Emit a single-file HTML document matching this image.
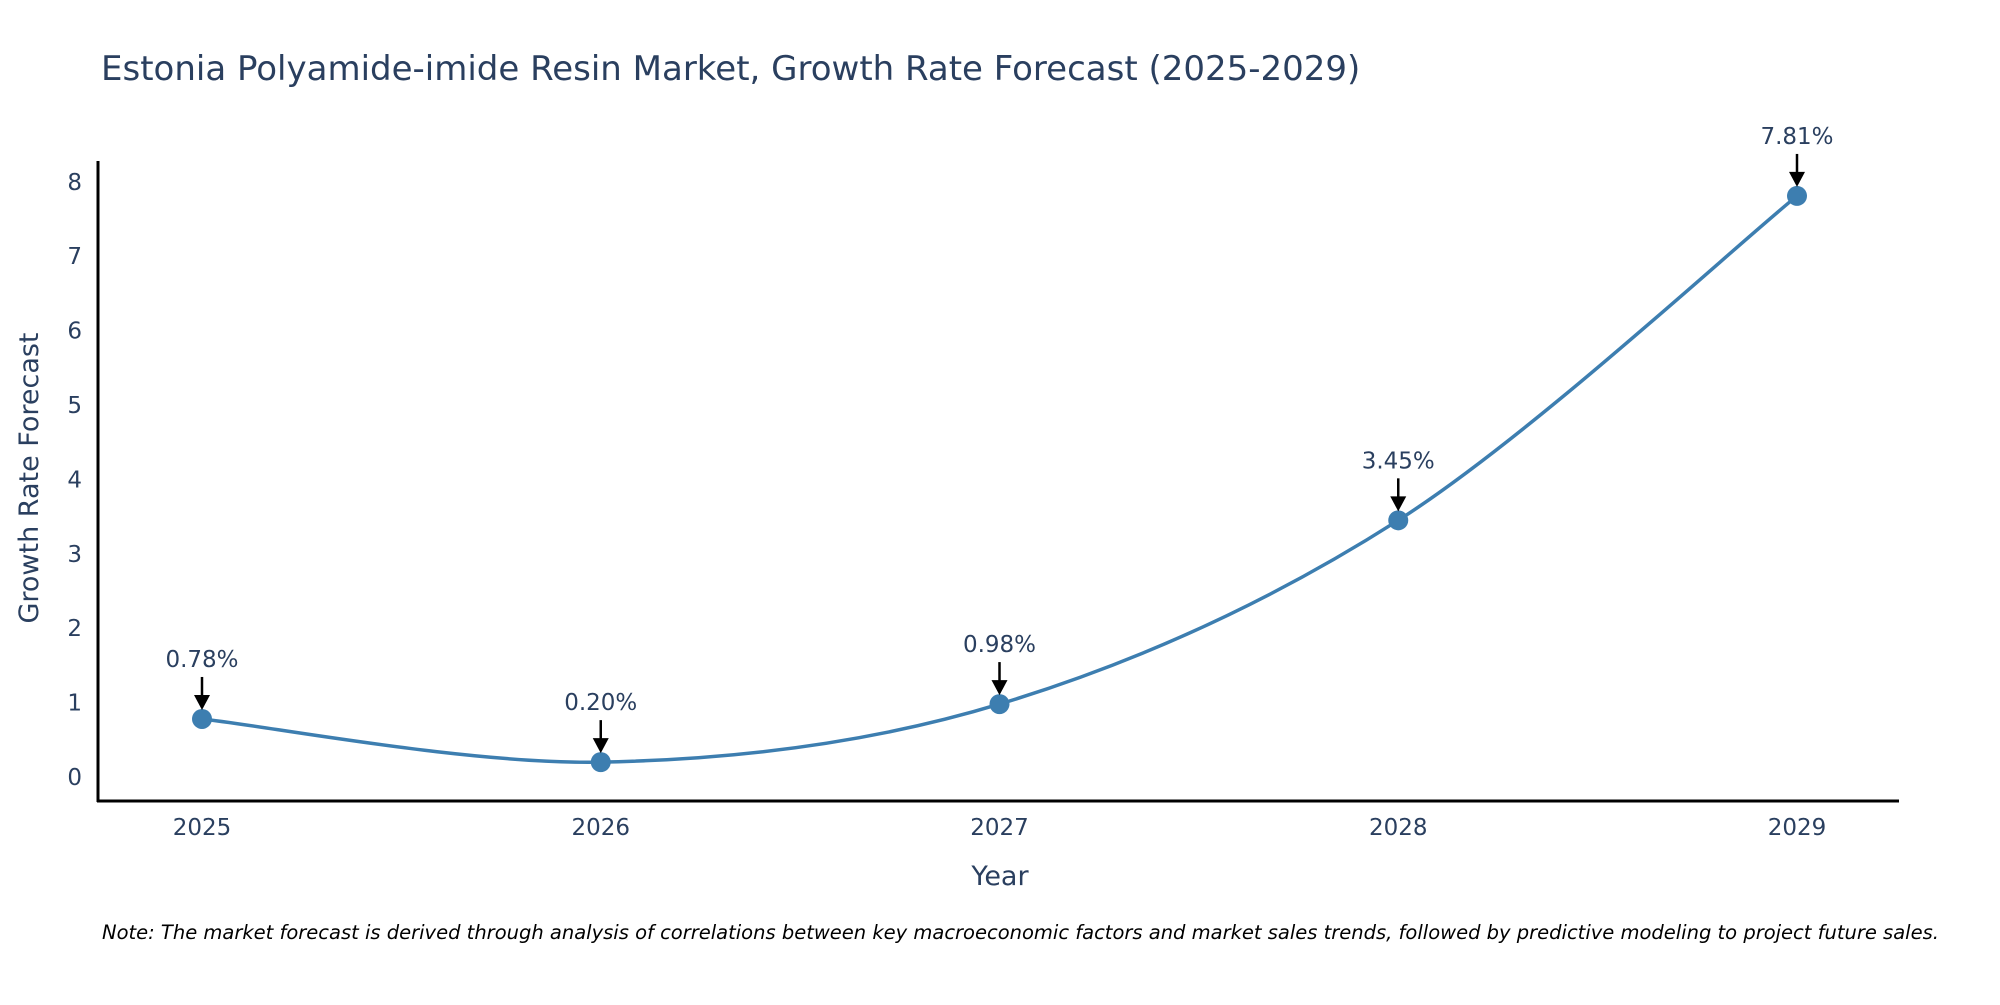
<!DOCTYPE html>
<html><head><meta charset="utf-8"><style>
body{margin:0;background:#fff}
svg text{font-family:"DejaVu Sans","Liberation Sans",sans-serif;fill:#2a3f5f}
</style></head><body>
<svg id="c" width="2000" height="1000" xmlns="http://www.w3.org/2000/svg">
<text x="101" y="80" font-size="34">Estonia Polyamide-imide Resin Market, Growth Rate Forecast (2025-2029)</text>
<line x1="98" y1="161" x2="98" y2="802" stroke="#000" stroke-width="3"/>
<line x1="97" y1="801" x2="1899" y2="801" stroke="#000" stroke-width="3"/>
<text transform="translate(38,478) rotate(-90)" text-anchor="middle" font-size="27">Growth Rate Forecast</text>
<text x="1000" y="885" text-anchor="middle" font-size="27">Year</text>
<text x="102" y="939" font-size="19.5" font-style="italic" style="fill:#000">Note: The market forecast is derived through analysis of correlations between key macroeconomic factors and market sales trends, followed by predictive modeling to project future sales.</text>
<g id="g"></g>
</svg>
<script>
const years=["2025","2026","2027","2028","2029"];
const values=[0.78,0.20,0.98,3.45,7.81];
const labels=["0.78%","0.20%","0.98%","3.45%","7.81%"];
const yTicks=[0,1,2,3,4,5,6,7,8];
const NS="http://www.w3.org/2000/svg";
const g=document.getElementById('g');
function xs(i){return 202+i*398.75;}
function ys(v){return 777-v*74.4;}
function mk(t,a){const e=document.createElementNS(NS,t);for(const k in a)e.setAttribute(k,a[k]);g.appendChild(e);return e;}
yTicks.forEach(t=>{
  const e=mk('text',{x:82,y:ys(t)+8,'text-anchor':'end','font-size':23});
  e.textContent=t;
  
  
});
years.forEach((y,i)=>{
  const e=mk('text',{x:xs(i),y:835,'text-anchor':'middle','font-size':23});
  e.textContent=y;
  
  
});
const P=values.map((v,i)=>[xs(i),ys(v)]);
let d='M'+P[0][0]+','+P[0][1];
const t=0.33;
for(let i=0;i<P.length-1;i++){
  const p0=P[Math.max(i-1,0)],p1=P[i],p2=P[i+1],p3=P[Math.min(i+2,P.length-1)];
  const c1=[p1[0]+(p2[0]-p0[0])*t*0.5,p1[1]+(p2[1]-p0[1])*t*0.5];
  const c2=[p2[0]-(p3[0]-p1[0])*t*0.5,p2[1]-(p3[1]-p1[1])*t*0.5];
  d+=' C'+c1[0]+','+c1[1]+' '+c2[0]+','+c2[1]+' '+p2[0]+','+p2[1];
}
const line=mk('path',{d:d,fill:'none',stroke:'#3d7eb0','stroke-width':3.5});


P.forEach((p,i)=>{
  const c=mk('circle',{cx:p[0],cy:p[1],r:10,fill:'#3d7eb0'});
  
  
  const l=mk('line',{x1:p[0],y1:p[1]-42,x2:p[0],y2:p[1]-22,stroke:'#000','stroke-width':2.5});
  
  
  const h=mk('path',{d:`M${p[0]-8},${p[1]-24} L${p[0]+8},${p[1]-24} L${p[0]},${p[1]-9} Z`,fill:'#000'});
  
  
  const tx=mk('text',{x:p[0],y:p[1]-52,'text-anchor':'middle','font-size':23});
  tx.textContent=labels[i];
  
  
});
</script>
</body></html>
